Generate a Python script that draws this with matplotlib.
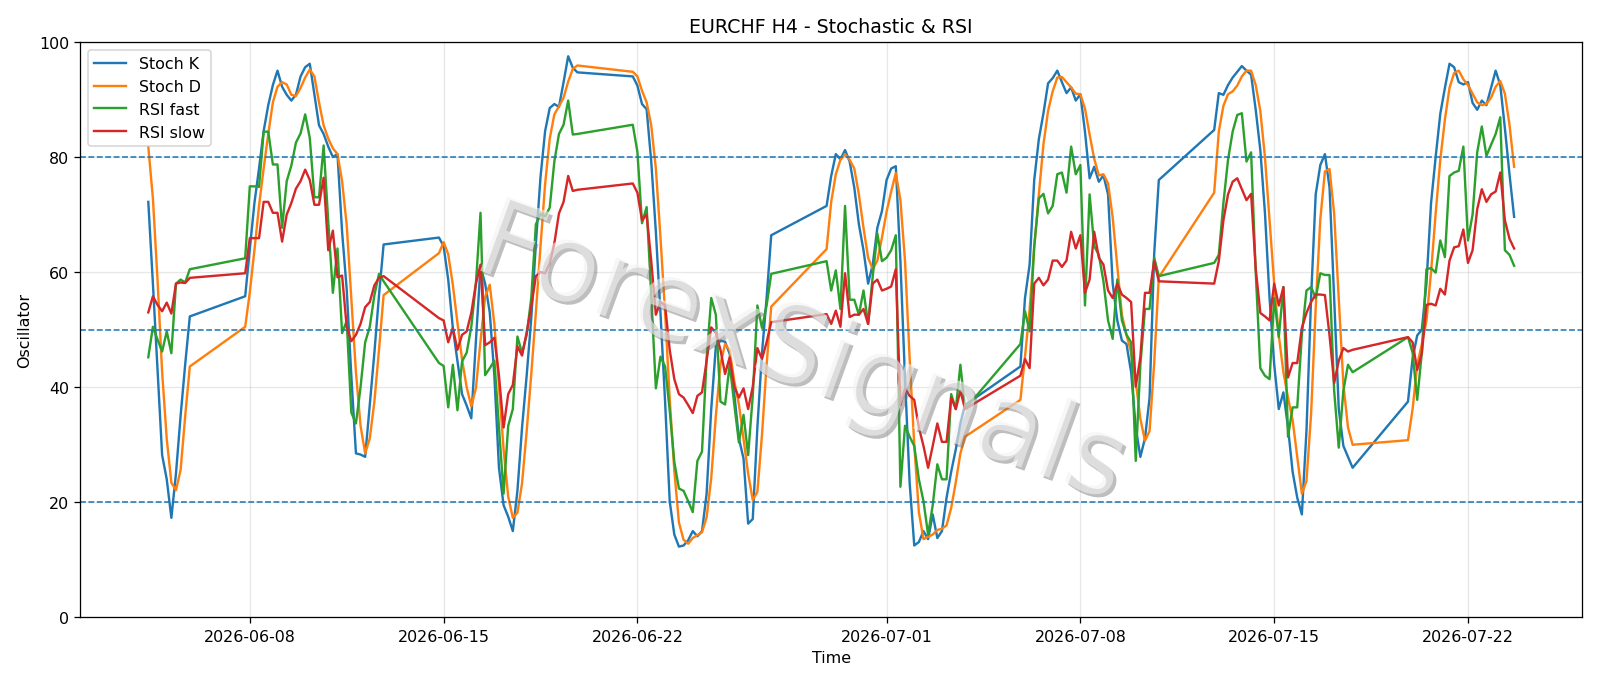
import pandas as pd
import matplotlib
matplotlib.use("Agg")
import matplotlib.pyplot as plt
import matplotlib.patheffects as pe

# H4 bars, Sunday 20:00 open to Friday 20:00
days = pd.date_range("2026-06-04", "2026-07-23", freq="D")
times = []
for d in days:
    if d.weekday() < 5:
        for h in range(0, 24, 4):
            times.append(d + pd.Timedelta(hours=h))
    elif d.weekday() == 6:
        times.append(d + pd.Timedelta(hours=20))
times = [t for t in times if pd.Timestamp("2026-06-04 08:00") <= t <= pd.Timestamp("2026-07-23 16:00")]

stoch_k = [
    72.2, 58, 43, 28.2, 24, 17.3, 25, 35, 44, 52.3,
    55.8, 64, 72, 78, 84.5, 89, 92.5, 95.0, 92.2, 90.8, 89.8, 90.8, 94.0, 95.6, 96.2, 90.8, 85.5, 84.0, 81.8,
    80.0, 80.5, 67, 57, 42, 28.5, 28.3, 27.9, 37, 46, 56, 64.8,
    66.0, 64.5, 58.7, 50.3, 44.5, 38.8, 36.8, 34.6, 48.0, 61.0, 58.0, 53.0, 42.0, 26.0, 19.5, 17.5, 15.0, 22.0, 33.0,
    42.0, 52.0, 65.0, 76.5, 84.5, 88.5, 89.2, 88.7, 93.0, 97.5, 95.5, 94.7,
    94.0, 92.4, 89.2, 88.3, 79.2, 67.0, 52.9, 37.5, 20.2, 14.4, 12.3, 12.5, 13.4, 15.0, 14.1, 15.0, 21.5, 36.2, 47.1,
    48.1, 47.9, 45.8, 38.8, 31.1, 27.6, 16.3, 17.1, 33.0, 45.9, 55.5, 66.4,
    71.5, 76.7, 80.5, 79.6, 81.2, 79.2, 74.7, 68.3, 63.8, 58.0, 61.3, 67.7, 70.6, 76.0, 78.0, 78.4, 61.9, 41.4, 23.4,
    12.5, 13.1, 15.0, 13.6, 17.9, 13.8, 15.0, 20.8, 25.3, 29.2, 33.7, 36.9,
    43.6, 55.5, 61.3, 76.0, 83.1, 87.6, 92.8, 93.7, 95.0, 93.0, 91.1, 92.1, 89.8, 90.9, 84.4, 76.3, 78.3, 75.7, 76.8,
    73.5, 58.0, 51.6, 48.1, 47.5, 42.6, 33.0, 27.9, 31.1, 38.2, 63.2, 76.0,
    84.7, 91.1, 90.8, 92.5, 93.8, 94.8, 95.8, 95.0, 94.3, 88.2, 81.2, 70.3, 55.5, 44.0, 36.2, 39.1, 33.0, 25.3, 20.8,
    17.9, 32.4, 55.5, 73.5, 78.6, 80.5, 74.7, 55.5, 36.2, 29.8, 27.9, 26.0,
    37.5, 45.0, 49.0, 50.0, 58.0, 72.0, 80.0, 87.5, 92.0, 96.2, 95.6, 93.0, 92.6, 93.0, 89.4, 88.2, 89.8, 89.0, 92.0,
    95.0, 92.5, 85.0, 77.0, 69.6,
]
stoch_d = [
    81.8, 72.8, 58.7, 42.6, 31.0, 23.4, 22.1, 25.6, 35.0, 43.6,
    50.5, 56.5, 63.8, 71.5, 78.0, 84.0, 89.5, 92.2, 93.0, 92.6, 90.8, 90.6, 92.0, 93.8, 95.2, 94.0, 89.5, 85.5, 83.2,
    81.5, 80.5, 75.8, 68.2, 55.4, 42.6, 33.3, 28.5, 31.1, 37.5, 46.5, 56.0,
    63.3, 65.2, 63.1, 57.8, 51.2, 44.8, 40.0, 36.7, 39.8, 48.0, 55.7, 57.8, 51.0, 40.3, 29.2, 21.0, 17.3, 18.2, 23.3,
    32.3, 42.3, 53.0, 64.5, 75.3, 83.2, 87.4, 88.8, 90.3, 93.1, 95.3, 95.9,
    94.8, 94.0, 91.5, 89.5, 85.5, 78.0, 66.0, 53.0, 38.0, 25.5, 16.5, 13.5, 12.8, 13.8, 14.3, 14.8, 17.4, 24.2, 35.0,
    44.0, 47.5, 46.5, 41.0, 37.0, 31.0, 25.0, 20.4, 21.8, 31.7, 43.9, 54.0,
    64.0, 72.2, 77.0, 79.5, 80.5, 79.5, 78.0, 73.5, 67.7, 62.5, 60.5, 62.0, 66.0, 70.5, 74.0, 77.2, 72.5, 61.9, 45.0,
    30.0, 18.3, 13.6, 14.0, 14.4, 15.2, 15.4, 16.0, 19.0, 23.5, 28.5, 31.4,
    37.8, 45.3, 53.5, 64.3, 73.5, 82.2, 88.0, 91.4, 93.8, 93.9, 93.0, 92.1, 91.0, 90.9, 88.4, 83.9, 79.7, 76.8, 77.0,
    75.4, 69.5, 61.0, 52.6, 49.1, 46.0, 41.0, 34.5, 30.7, 32.4, 44.2, 59.1,
    73.8, 84.4, 88.9, 90.9, 91.4, 92.4, 94.0, 95.0, 95.0, 92.5, 88.0, 80.0, 69.0, 58.0, 49.0, 42.6, 38.2, 34.3, 27.9,
    21.5, 23.7, 35.3, 53.8, 69.2, 77.5, 77.9, 70.2, 55.5, 40.5, 33.0, 30.0,
    30.8, 36.2, 43.9, 47.5, 51.5, 60.0, 70.2, 79.5, 86.5, 92.0, 94.6, 95.0, 93.5, 92.5, 91.0, 89.5, 89.0, 89.2, 90.3,
    92.2, 93.2, 91.0, 85.6, 78.3,
]
rsi_fast = [
    45.2, 50.5, 48.3, 46.2, 49.7, 45.9, 58.0, 58.7, 58.2, 60.5,
    62.4, 74.9, 74.9, 74.8, 84.4, 84.4, 78.7, 78.7, 67.7, 75.8, 78.5, 82.5, 84.1, 87.4, 83.3, 73.0, 73.0, 82.0, 68.8,
    56.4, 64.1, 49.4, 51.5, 35.6, 33.7, 40.0, 47.8, 50.5, 56.0, 59.7, 58.4,
    44.2, 43.7, 36.5, 43.9, 36.0, 44.5, 46.0, 50.5, 58.0, 70.3, 42.1, 43.3, 44.6, 33.0, 21.5, 33.3, 36.2, 48.8, 45.9,
    49.1, 55.5, 68.3, 70.1, 69.7, 71.2, 79.2, 84.0, 85.6, 89.8, 83.9, 84.0,
    85.6, 80.9, 68.5, 71.3, 56.0, 39.8, 45.3, 43.6, 36.0, 27.0, 22.4, 22.0, 20.2, 18.3, 27.2, 28.8, 45.0, 55.5, 52.6,
    37.5, 37.0, 44.0, 37.0, 30.4, 35.2, 28.2, 38.5, 54.2, 50.3, 54.2, 59.7,
    61.9, 56.8, 60.3, 53.6, 71.5, 55.2, 55.2, 52.6, 56.8, 51.0, 59.3, 66.7, 61.9, 62.5, 63.8, 66.4, 22.7, 33.3, 31.4,
    29.8, 24.0, 20.2, 14.4, 19.5, 26.6, 24.0, 24.0, 38.8, 36.2, 43.9, 36.2,
    47.5, 53.2, 49.7, 64.5, 72.8, 73.6, 70.2, 71.5, 77.0, 77.3, 73.8, 81.8, 77.0, 78.6, 54.2, 73.5, 64.5, 63.0, 58.4,
    51.6, 48.4, 58.7, 51.6, 49.1, 47.8, 27.2, 43.9, 53.6, 53.6, 62.5, 59.3,
    61.6, 63.0, 72.0, 79.5, 84.4, 87.3, 87.6, 79.2, 80.8, 60.0, 43.3, 42.0, 41.4, 55.5, 48.7, 57.4, 31.4, 36.5, 36.5,
    49.1, 56.8, 57.4, 55.5, 59.8, 59.5, 59.5, 39.4, 29.5, 39.4, 43.9, 42.6,
    48.7, 46.0, 37.8, 46.0, 60.5, 60.7, 59.9, 65.5, 62.6, 76.7, 77.3, 77.6, 81.8, 65.5, 70.0, 80.8, 85.3, 80.2, 82.1,
    84.0, 86.9, 63.8, 63.0, 61.1,
]
rsi_slow = [
    53.0, 55.8, 54.3, 53.2, 54.7, 52.8, 58.0, 58.2, 58.1, 59.0,
    59.8, 65.9, 65.9, 65.9, 72.2, 72.2, 70.3, 70.3, 65.3, 70.0, 72.0, 74.5, 75.8, 77.8, 76.0, 71.7, 71.7, 76.4, 63.8,
    67.2, 59.1, 59.4, 50.5, 48.0, 49.1, 51.0, 53.9, 54.8, 57.7, 59.0, 59.3,
    52.0, 51.6, 47.8, 50.3, 46.5, 49.1, 49.7, 52.9, 58.0, 61.3, 47.3, 47.8, 48.6, 42.0, 33.0, 38.8, 40.4, 47.1, 45.5,
    49.5, 54.0, 59.3, 60.0, 59.8, 61.5, 65.0, 70.2, 72.2, 76.7, 74.1, 74.3,
    75.4, 73.8, 69.0, 70.0, 61.9, 52.6, 54.8, 54.2, 46.5, 41.4, 38.8, 38.2, 36.9, 35.5, 38.5, 39.1, 44.6, 50.4, 49.4,
    46.5, 42.3, 45.2, 40.1, 38.2, 39.8, 36.2, 40.1, 46.8, 44.9, 47.8, 51.3,
    52.7, 51.0, 53.3, 50.5, 59.8, 52.2, 52.6, 52.6, 53.6, 51.0, 58.0, 58.7, 56.8, 57.1, 57.5, 60.5, 36.9, 39.8, 38.5,
    37.8, 33.0, 29.8, 26.0, 29.8, 33.7, 30.5, 30.5, 38.2, 36.2, 39.4, 36.2,
    42.0, 44.9, 43.3, 58.0, 59.0, 57.7, 58.7, 62.0, 62.0, 60.9, 62.0, 67.0, 64.1, 66.4, 56.4, 58.7, 67.0, 62.5, 61.3,
    56.8, 55.5, 58.0, 56.1, 55.5, 54.8, 40.1, 45.2, 56.4, 56.4, 61.9, 58.4,
    58.0, 61.9, 69.0, 73.5, 75.7, 76.3, 74.4, 72.5, 73.6, 60.6, 52.9, 52.3, 51.6, 58.0, 54.2, 57.4, 41.7, 44.2, 44.2,
    50.3, 52.9, 54.8, 56.1, 56.1, 56.0, 49.0, 40.7, 44.6, 46.8, 46.2, 46.5,
    48.7, 47.8, 43.0, 45.9, 54.3, 54.5, 54.2, 57.1, 56.1, 62.0, 64.3, 64.5, 67.4, 61.6, 63.8, 70.9, 74.4, 72.2, 73.5,
    74.0, 77.3, 69.0, 65.8, 64.1,
]
levels = [80, 50, 20]

fig, ax = plt.subplots(figsize=(14, 6.0025), dpi=114.2857)
fig.subplots_adjust(left=0.05, right=0.989, top=0.9375, bottom=0.0985)

ax.plot(times, stoch_k, label="Stoch K")
ax.plot(times, stoch_d, label="Stoch D")
ax.plot(times, rsi_fast, label="RSI fast")
ax.plot(times, rsi_slow, label="RSI slow")
for lv in levels:
    ax.axhline(lv, linestyle="--", linewidth=1, color="C0")

ax.set_ylim(0, 100)
ax.set_title("EURCHF H4 - Stochastic & RSI")
ax.set_xlabel("Time")
ax.set_ylabel("Oscillator")
ax.grid(True, alpha=0.3)
ax.legend(loc="upper left")

# watermark on top, nearly white body with grey shadow
ax.text(0.48, 0.455, "ForexSignals", transform=ax.transAxes, fontsize=68,
        color="#f2f2f2", alpha=0.6, rotation=-20, ha="center", va="center", zorder=5,
        path_effects=[pe.SimplePatchShadow(offset=(2, -2), shadow_rgbFace="#707070", alpha=0.45),
                      pe.Normal()])

fig.savefig("out.png", dpi=114.2857)
